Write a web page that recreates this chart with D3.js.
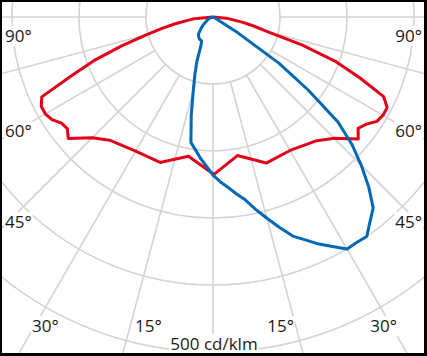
<!DOCTYPE html>
<html>
<head>
<meta charset="utf-8">
<script src="https://cdn.jsdelivr.net/npm/d3@7"></script>
<style>
  html, body { margin: 0; padding: 0; background: #fff; }
  svg { display: block; }
</style>
</head>
<body>
<svg id="chart" width="427" height="356"></svg>
<script>
// ---------- data ----------
const ringValues = [100, 200, 300, 400, 500];        // cd/klm
const spokeAngles = d3.range(-180, 181, 15);           // degrees from nadir
const unitLabel = "500 cd/klm";
const angleLabelsLeft = ["90°", "60°", "45°", "30°", "15°"];
const angleLabelsRight = ["90°", "60°", "45°", "30°", "15°"];

// C90 / C270 plane (red)
const redAngles = [0, 10, 20, 30, 40, 45, 50, 52.5, 55, 57.5, 60, 62.5, 65, 67.5, 70, 72.5, 75, 77.5, 80, 85, 90];
const redLeft   = [234, 211, 231, 231, 240, 255, 282, 274, 276, 285, 289, 289, 282, 228, 187, 143, 104, 78, 56, 28, 0];
const redRight  = [236, 210, 232, 230, 241, 256, 283, 273, 279, 290, 293, 293, 281, 237, 196, 140, 84, 62, 44, 20, 0];

// C0 / C180 plane (blue)
const blueAngles = [0, 2.5, 5, 7.5, 10, 12.5, 15, 17.5, 20, 22.5, 25, 27.5, 30, 32.5, 35, 37.5, 40, 42.5, 45, 47.5, 50, 52.5, 55, 57.5, 60, 65, 70, 80, 90];
const blueLeft  = [236, 223, 212, 200, 190, 150, 114, 90, 70, 48, 40, 39, 39, 38, 37, 35, 34, 30, 26, 23, 20, 17, 14, 12, 10, 7, 5, 2, 0];
const blueRight = [236, 246, 255, 266, 277, 294, 311, 329, 348, 360, 374, 386, 400, 399, 400, 385, 372, 344, 313, 281, 243, 179, 120, 44, 6, 2, 0, 0, 0];

// ---------- layout ----------
const W = 427, H = 356;
const cx = 213, cy = 17;
const svg = d3.select("#chart");
const rad = Math.PI / 180;

const r = d3.scaleLinear().domain([0, 500]).range([0, 335]);

svg.append("rect").attr("x", 0).attr("y", 0).attr("width", W).attr("height", H).attr("fill", "#000");
svg.append("rect").attr("x", 2).attr("y", 2).attr("width", W - 5).attr("height", H - 5).attr("fill", "#fff");

svg.append("defs").append("clipPath").attr("id", "clip")
  .append("rect").attr("x", 2).attr("y", 2).attr("width", W - 5).attr("height", H - 5);

const plot = svg.append("g").attr("clip-path", "url(#clip)");
const g = plot.append("g").attr("transform", `translate(${cx},${cy})`);

const gridColor = "#d3d3d3";
// rings
g.selectAll("circle.ring").data(ringValues).join("circle")
  .attr("class", "ring")
  .attr("r", d => r(d))
  .attr("fill", "none")
  .attr("stroke", gridColor)
  .attr("stroke-width", 1.6);

// spokes (from the first ring outward)
g.selectAll("line.spoke").data(spokeAngles).join("line")
  .attr("class", "spoke")
  .attr("x1", d => r(100) * Math.sin(d * rad))
  .attr("y1", d => r(100) * Math.cos(d * rad))
  .attr("x2", d => r(800) * Math.sin(d * rad))
  .attr("y2", d => r(800) * Math.cos(d * rad))
  .attr("stroke", gridColor)
  .attr("stroke-width", 1.6);

// curves: d3.lineRadial angle measured clockwise from "up"; nadir = PI
function buildSeries(angles, left, right) {
  const pts = [];
  for (let i = angles.length - 1; i >= 0; i--) pts.push({a: Math.PI + angles[i] * rad, v: left[i]});
  for (let i = 0; i < angles.length; i++) pts.push({a: Math.PI - angles[i] * rad, v: right[i]});
  return pts;
}
const radial = d3.lineRadial().angle(d => d.a).radius(d => r(d.v)).curve(d3.curveLinear);

g.append("path")
  .datum(buildSeries(redAngles, redLeft, redRight))
  .attr("d", radial)
  .attr("fill", "none")
  .attr("stroke", "#e2001a")
  .attr("stroke-width", 3)
  .attr("stroke-linejoin", "round");

g.append("path")
  .datum(buildSeries(blueAngles, blueLeft, blueRight))
  .attr("d", radial)
  .attr("fill", "none")
  .attr("stroke", "#0068b4")
  .attr("stroke-width", 3)
  .attr("stroke-linejoin", "round");

// ---------- labels ----------
const font = "'Open Sans', 'Noto Sans', sans-serif";
const leftPos = [[5, 42], [5, 137], [5, 228], [32, 332], [135, 332]];
const rightPos = [[422, 42], [422, 137], [422, 228], [397, 332], [294, 332]];
const labels = [];
angleLabelsLeft.forEach((t, i) => labels.push({t, x: leftPos[i][0], y: leftPos[i][1], anchor: "start"}));
angleLabelsRight.forEach((t, i) => labels.push({t, x: rightPos[i][0], y: rightPos[i][1], anchor: "end"}));
labels.push({t: unitLabel, x: 214, y: 350, anchor: "middle"});

const lg = plot.append("g");
labels.forEach(d => {
  const grp = lg.append("g");
  const bg = grp.append("rect").attr("fill", "#fff");
  const txt = grp.append("text")
    .attr("x", d.x).attr("y", d.y)
    .attr("text-anchor", d.anchor)
    .attr("font-family", font)
    .attr("font-size", 17)
    .attr("fill", "#1a1a1a")
    .text(d.t);
  const bb = txt.node().getBBox();
  bg.attr("x", bb.x - 1).attr("y", bb.y + 2).attr("width", bb.width + 2).attr("height", bb.height - 3);
});
</script>
</body>
</html>
